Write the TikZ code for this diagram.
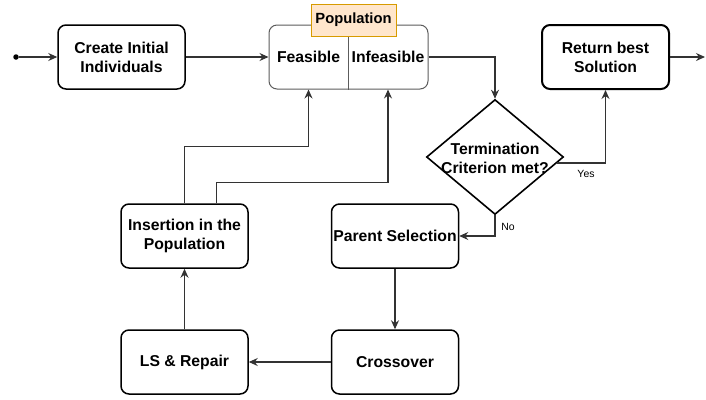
\documentclass[tikz,border=0pt]{standalone}
\usepackage{fontspec}
\setmainfont{Liberation Sans}
\usepackage{tikz}
\usetikzlibrary{arrows.meta,shapes.geometric,calc}
\definecolor{EdgeGray}{HTML}{333333}
\definecolor{PopFill}{HTML}{FFE6CC}
\definecolor{PopLine}{HTML}{D79B00}

\begin{document}
\begin{tikzpicture}[x=1bp, y=-1bp, >={Stealth[length=9bp,width=8bp,inset=3bp]}, font=\fontsize{15.8}{19}\selectfont\bfseries]
\tikzset{box/.style={draw=black, line width=1.5bp, rounded corners=8bp, minimum width=127bp, minimum height=64bp, align=center, fill=white, inner sep=1bp}, thickbox/.style={box, line width=2bp}, decision/.style={diamond, draw=black, line width=1.6bp, minimum width=137bp, minimum height=115bp, inner sep=0pt, fill=white}, flow/.style={->, line width=1.1bp, EdgeGray}, tag/.style={font=\fontsize{10.5}{12}\selectfont\mdseries}}
\useasboundingbox (0,0) rectangle (706,399);
\node[circle, fill=black, inner sep=0pt, minimum size=5.5bp] (start) at (16,57) {};
\node[box] (create) at (121.5,57) {Create Initial\\Individuals};
\node[box, draw=EdgeGray!80, line width=1bp, minimum width=159bp] (pop) at (348.5,57) {};
\node (feas) at (308.5,57) {Feasible};
\node (infeas) at (388,57) {Infeasible};
\draw[EdgeGray!80, line width=1bp] (pop.north) -- (pop.south);
\node[draw=PopLine, fill=PopFill, line width=1bp, minimum width=85bp, minimum height=32bp, font=\fontsize{14.8}{17}\selectfont\bfseries] (poplabel) at (353.5,20) {Population};
\node[decision] (term) at (495,157) {};
\node[align=center] (termtext) at (495,158) {Termination\\Criterion met?};
\node[thickbox] (ret) at (605.5,57) {Return best\\Solution};
\node[box] (parent) at (395,236) {Parent Selection};
\node[box] (cross) at (395,362) {Crossover};
\node[box] (ls) at (184.5,362) {LS \& Repair};
\node[box] (ins) at (184.5,236) {Insertion in the\\Population};
\coordinate (out) at (705,57);
\node[tag] (yes) at (586,174) {Yes};
\node[tag] (no) at (508,227) {No};
% main loop
\draw[flow] (start) -- (create);
\draw[flow] (create) -- (pop);
\draw[flow] (pop.east) -| (term.north);
\draw[flow] ([xshift=-7bp,yshift=-6bp]term.east) -| (ret.south);
\draw[flow] (term.south) |- (parent.east);
\foreach \a/\b in {parent/cross,cross/ls,ls/ins,ret/out} \draw[flow] (\a)--(\b);
% back into the population
\draw[flow] (ins.north) -- ++(0,-57) -| (feas |- pop.south);
\draw[flow] ([xshift=32bp]ins.north) -- ++(0,-21) -| (infeas |- pop.south);
\end{tikzpicture}
\end{document}
